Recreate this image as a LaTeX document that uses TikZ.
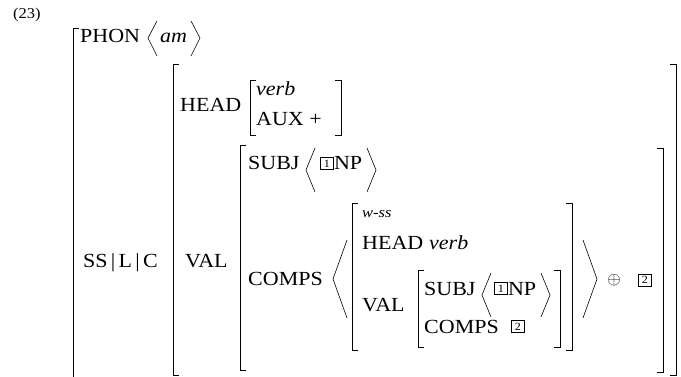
\documentclass[tikz,border=0pt]{standalone}
\usepackage{fontspec}
\setmainfont[FakeStretch=1.1]{Liberation Serif}
\usetikzlibrary{positioning}
\tikzset{
  feat/.style={anchor=base west, inner sep=0pt, font=\fontsize{20}{22}\selectfont},
  sort/.style={anchor=base west, inner sep=0pt, font=\fontsize{20}{22}\selectfont\itshape},
  smallsort/.style={anchor=base west, inner sep=0pt, font=\fontsize{15}{17}\selectfont\itshape},
  tag/.style={draw, line width=0.6pt, inner sep=0pt, minimum width=13pt, minimum height=12pt, font=\fontsize{11}{12}\selectfont},
  brak/.style={line width=0.85pt},
  angl/.style={line width=0.6pt}
}

\begin{document}
\begin{tikzpicture}[x=1pt,y=-1pt]
  \useasboundingbox (0,0) rectangle (681,377);
  \node[anchor=base west, inner sep=0pt, font=\fontsize{15}{17}\selectfont] (exnum) at (13,19) {(23)};
  % outer matrix
  \draw[brak] (79,28) -- (73,28) -- (73,377);
  \node[feat] (phon) at (80,43) {PHON};
  \draw[angl] (157,21) -- (148,38) -- (157,56);
  \node[sort] (am) at (160,43) {am};
  \draw[angl] (191,21) -- (200,38) -- (191,56);
  % SS|L|C value
  \node[feat] (sslc) at (83,268) {SS\,|\,L\,|\,C};
  \draw[brak] (179,64) -- (173,64) -- (173,375) -- (179,375);
  \draw[brak] (670,64) -- (676,64) -- (676,375) -- (670,375);
  \node[feat] (head) at (180,112) {HEAD};
  \draw[brak] (256,80) -- (250,80) -- (250,135) -- (256,135);
  \node[sort] (verb) at (256,96) {verb};
  \node[feat] (aux) at (256,126) {AUX +};
  \draw[brak] (335,80) -- (341,80) -- (341,135) -- (335,135);
  % VAL value
  \node[feat] (val) at (185,268) {VAL};
  \draw[brak] (246,145) -- (240,145) -- (240,370) -- (246,370);
  \draw[brak] (657,148) -- (663,148) -- (663,372) -- (657,372);
  \node[feat] (subj) at (248,170) {SUBJ};
  \draw[angl] (315,148) -- (306,170) -- (315,192);
  \node[tag] (tagA) at (327,163.5) {1};
  \node[feat] (npA) at (tagA.east |- subj.base) {NP};
  \draw[angl] (367,148) -- (376,170) -- (367,192);
  \node[feat] (comps) at (248,286) {COMPS};
  \draw[angl] (347,240) -- (333,279) -- (347,318);
  % the w-ss element
  \draw[brak] (358,203) -- (352,203) -- (352,350) -- (358,350);
  \node[smallsort] (wss) at (362,218) {w-ss};
  \node[feat] (headB) at (362,250) {HEAD};
  \node[sort] (verbB) at (headB.east |- headB.base) {~verb};
  \node[feat] (valB) at (362,312) {VAL};
  \draw[brak] (424,270) -- (418,270) -- (418,347) -- (424,347);
  \node[feat] (subjB) at (424,295) {SUBJ};
  \draw[angl] (491,273) -- (482,295) -- (491,317);
  \node[tag] (tagB) at (501,288.5) {1};
  \node[feat] (npB) at (tagB.east |- subjB.base) {NP};
  \draw[angl] (541,273) -- (550,295) -- (541,317);
  \node[feat] (compsB) at (424,333) {COMPS};
  \node[tag] (tagC) at (518,326.5) {2};
  \draw[brak] (554,270) -- (560,270) -- (560,347) -- (554,347);
  \draw[brak] (566,203) -- (572,203) -- (572,350) -- (566,350);
  \draw[angl] (583,240) -- (597,279) -- (583,318);
  \node[inner sep=0pt, font=\fontsize{18}{20}\selectfont] (plus) at (614,280) {$\oplus$};
  \node[tag] (tagD) at (645,280) {2};
\end{tikzpicture}
\end{document}
